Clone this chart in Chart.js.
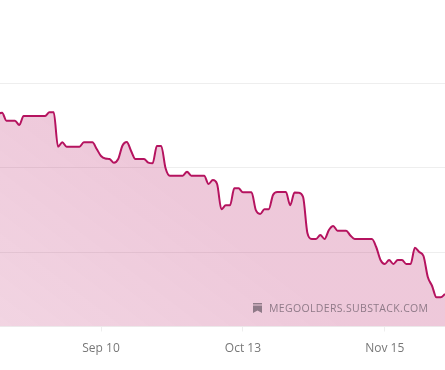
<!DOCTYPE html>
<html><head><meta charset="utf-8">
<script src="https://cdn.jsdelivr.net/npm/chart.js@4"></script>
<style>
html,body{margin:0;padding:0;background:#fff;overflow:hidden}
#wrap{position:relative;width:445px;height:370px}
#mark{position:absolute;left:253px;top:301px;height:13px;line-height:13px;font:10.5px "Open Sans",sans-serif;color:#8f7a88;white-space:nowrap;display:flex;align-items:center;gap:7px;letter-spacing:.34px}
#mark svg{display:block}
</style></head><body>
<div id="wrap"><canvas id="c" width="445" height="370"></canvas>
<div id="mark"><svg width="9" height="10" viewBox="0 0 9 10"><path d="M0 0H9V1.5H0ZM0 2.5H9V10L4.5 7.5L0 10Z" fill="#8f7a88"/></svg><span>MEGOOLDERS.SUBSTACK.COM</span></div></div>
<script>
const firstDayOffset = -24;
const values = [
212.5,213.8,205.8,205.8,205.8,201.5,210.5,210.5,210.5,210.5,210.5,210.5,214.2,214.2,
179.8,184.2,179.8,179.8,179.8,179.8,184.2,184.2,184.2,177.5,170.5,168,167.5,163.8,
167.5,181,184.5,175.5,167.5,167.5,167.5,163.8,163.2,180.5,180.5,158.5,150.8,150.8,
150.8,150.8,154.8,150.8,150.8,150.8,150.8,142.5,146.5,142.5,117.2,121.2,121.2,138.2,
138.2,134.2,134.2,134.2,116.5,112.5,117.2,117.2,131.5,134.5,134.5,134.5,121.2,134,
133.8,129.5,93.5,87.5,87.5,91.5,87.5,96.5,100.5,95.8,95.8,95.8,91,87.5,87.5,87.5,
87.5,87.5,79.5,66.5,62.5,66.5,62.5,66.5,66.5,62.5,62.5,78.8,74.5,70.5,49.5,40.5,
29.2,29.2,32.5];
const tickDays = [0, 33, 66];
const tickLabels = ['Sep 10', 'Oct 13', 'Nov 15'];
const gridValues = [74.5, 159, 243.5];
const points = values.map((v, i) => ({x: firstDayOffset + i, y: v}));

new Chart(document.getElementById('c'), {
  type: 'line',
  data: {datasets: [{
    data: points,
    borderColor: '#b5135f',
    borderWidth: 2,
    pointRadius: 0,
    cubicInterpolationMode: 'monotone',
    fill: 'start',
    backgroundColor(ctx) {
      const a = ctx.chart.chartArea;
      if (!a) return 'rgba(181,19,95,.23)';
      const g = ctx.chart.ctx.createLinearGradient(a.left, a.bottom, a.left + 130, a.bottom - 170);
      g.addColorStop(0, 'rgba(181,19,95,.18)');
      g.addColorStop(1, 'rgba(181,19,95,.23)');
      return g;
    }
  }]},
  options: {
    responsive: false, animation: false, events: [],
    layout: {padding: 0},
    plugins: {legend: {display: false}, tooltip: {enabled: false}, title: {display: false}},
    scales: {
      x: {
        type: 'linear', min: -23.49, max: 80,
        afterBuildTicks(s) { s.ticks = tickDays.map(v => ({value: v})); },
        afterFit(s) { s.height = 43.5; },
        grid: {drawOnChartArea: false, drawTicks: true, tickLength: 5, tickColor: '#eeeeee', tickWidth: 1},
        border: {color: '#eeeeee', width: 1},
        ticks: {
          autoSkip: false, maxRotation: 0, padding: 10, color: '#777777',
          font: {family: '"Open Sans"', size: 12},
          callback(v) { return tickLabels[tickDays.indexOf(v)]; }
        }
      },
      y: {
        min: 0, max: 326.5,
        afterBuildTicks(s) { s.ticks = gridValues.map(v => ({value: v})); },
        afterFit(s) { s.width = 0; },
        grid: {color: '#eeeeee', lineWidth: 1, drawTicks: false},
        border: {display: false},
        ticks: {display: false}
      }
    }
  }
});
</script></body></html>
